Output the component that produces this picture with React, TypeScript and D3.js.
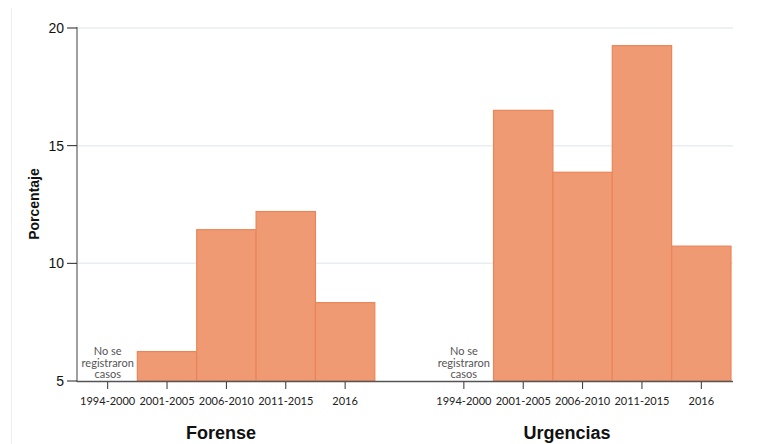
import React from "react";
import * as d3 from "d3";

const groups = ["Forense", "Urgencias"];
const periods = ["1994-2000", "2001-2005", "2006-2010", "2011-2015", "2016"];
const forenseValues: (number | null)[] = [null, 6.25, 11.43, 12.2, 8.33];
const urgenciasValues: (number | null)[] = [null, 16.5, 13.87, 19.25, 10.73];
const yTicks = [5, 10, 15, 20];
const noDataLines = ["No se", "registraron", "casos"];

const W = 760;
const H = 444;

export default function App() {
  const slots = d3.range(11).map(String);
  const x = d3.scaleBand<string>().domain(slots).range([78, 731]).padding(0);
  const y = d3.scaleLinear().domain([5, 20]).range([381, 28]);
  const bw = x.bandwidth();

  const series = [forenseValues, urgenciasValues];
  const slotOf = (g: number, i: number) => String(g * 6 + i);

  const titleX = [221, 567];

  return (
    <svg
      width={W}
      height={H}
      style={{ position: "absolute", left: 0, top: 0, background: "#fff" }}
    >
      <line x1={11.5} x2={11.5} y1={8} y2={H} stroke="#eeeeee" strokeWidth={1} />
      {yTicks.slice(1).map((t) => (
        <line key={"g" + t} x1={78} x2={733} y1={y(t)} y2={y(t)} stroke="#e8eef3" strokeWidth={1.5} />
      ))}
      {series.map((vals, g) =>
        vals.map((v, i) =>
          v == null ? null : (
            <rect
              key={g + "-" + i}
              x={x(slotOf(g, i))!}
              y={y(v)}
              width={bw}
              height={y(5) - y(v)}
              fill="#ef9a72"
              stroke="#eb8558"
              strokeWidth={1.2}
            />
          )
        )
      )}
      {/* y axis */}
      <line x1={77} x2={77} y1={27} y2={382} stroke="#888" strokeWidth={1.6} />
      {yTicks.map((t) => (
        <g key={"yt" + t}>
          <line x1={67} x2={77} y1={y(t)} y2={y(t)} stroke="#222" strokeWidth={1} />
          <text
            x={64}
            y={y(t) + 5}
            textAnchor="end"
            fontFamily="Liberation Sans, Arial, sans-serif"
            fontSize={14}
            fill="#111"
          >
            {t}
          </text>
        </g>
      ))}
      <text
        transform={`translate(39,204) rotate(-90)`}
        textAnchor="middle"
        fontFamily="Liberation Sans, Arial, sans-serif"
        fontWeight="bold"
        fontSize={14}
        fill="#111"
      >
        Porcentaje
      </text>
      {/* x axis */}
      <line x1={77} x2={733} y1={381.5} y2={381.5} stroke="#555" strokeWidth={1.6} />
      {series.map((vals, g) =>
        periods.map((p, i) => {
          const cx = x(slotOf(g, i))! + bw / 2;
          return (
            <g key={"xt" + g + i}>
              <line x1={cx} x2={cx} y1={382} y2={389} stroke="#333" strokeWidth={1} />
              <text
                x={cx}
                y={405}
                textAnchor="middle"
                fontFamily="Lato, sans-serif"
                fontSize={11}
                fill="#222"
              >
                {p}
              </text>
              {vals[i] == null &&
                noDataLines.map((l, k) => (
                  <text
                    key={k}
                    x={cx}
                    y={355 + k * 11.7}
                    textAnchor="middle"
                    fontFamily="Lato, sans-serif"
                    fontSize={11}
                    fill="#555"
                  >
                    {l}
                  </text>
                ))}
            </g>
          );
        })
      )}
      {groups.map((gname, g) => (
        <text
          key={gname}
          x={titleX[g]}
          y={439}
          textAnchor="middle"
          fontFamily="Liberation Sans, Arial, sans-serif"
          fontWeight="bold"
          fontSize={18}
          fill="#111"
        >
          {gname}
        </text>
      ))}
    </svg>
  );
}
